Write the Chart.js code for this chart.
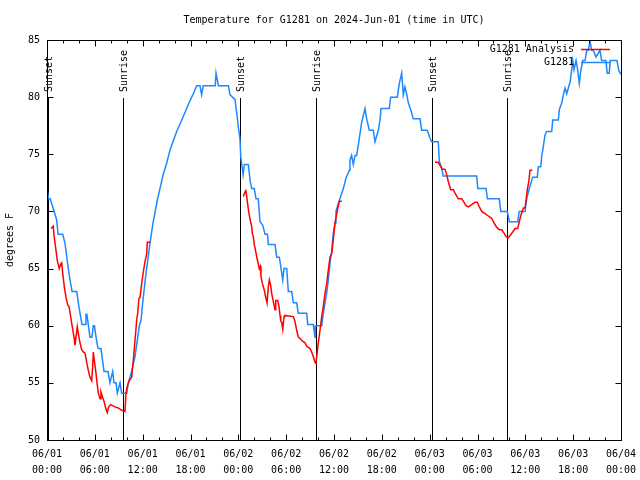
<!DOCTYPE html>
<html>
<head>
<meta charset="utf-8">
<script src="https://cdn.jsdelivr.net/npm/chart.js@4.4.1/dist/chart.umd.min.js"></script>
<style>
html,body{margin:0;padding:0;background:#fff}
#chart{display:block}
</style>
</head>
<body>
<canvas id="chart" width="640" height="480"></canvas>
<script>
// ==============================
// G1281 temperature, 2024-Jun-01
// ==============================

const titleText = "Temperature for G1281 on 2024-Jun-01 (time in UTC)"

// hours since 06/01 00:00 UTC
const xTickHours = [0,6,12,18,24,30,36,42,48,54,60,66,72]
const xTickLabels = [
["06/01","00:00"],["06/01","06:00"],["06/01","12:00"],["06/01","18:00"],
["06/02","00:00"],["06/02","06:00"],["06/02","12:00"],["06/02","18:00"],
["06/03","00:00"],["06/03","06:00"],["06/03","12:00"],["06/03","18:00"],
["06/04","00:00"]
]
const yTicks = [50,55,60,65,70,75,80,85]

const eventHours = [0.15,9.55,24.2,33.7,48.35,57.65]
const eventNames = ["Sunset","Sunrise","Sunset","Sunrise","Sunset","Sunrise"]

// G1281 station (blue)
const stationHours = [
0,0.2,0.4,0.9,1.2,1.4,1.97,2.26,2.67,2.89,
3.14,3.73,3.93,4.14,4.39,4.77,4.89,5.0,5.18,5.39,
5.64,5.81,5.95,6.15,6.4,6.77,7.15,7.65,7.9,8.24,
8.4,8.66,8.82,9.16,9.37,10.0,10.2,10.62,11.04,11.58,
11.8,12.0,12.42,12.92,13.3,13.84,14.17,14.6,15.0,15.4,
15.85,16.27,16.9,17.52,17.94,18.35,18.78,19.2,19.4,19.6,
21.1,21.2,21.5,22.75,22.96,23.58,23.8,24.0,24.2,24.3,
24.6,24.75,25.25,25.5,25.68,26.0,26.22,26.5,26.72,27.05,
27.35,27.66,27.76,28.6,28.81,29.14,29.32,29.57,29.73,30.07,
30.27,30.7,30.9,31.32,31.52,32.58,32.7,33.4,33.62,33.66,
34.46,34.66,34.87,35.09,35.29,35.5,35.71,35.91,36.13,36.25,
36.54,36.84,37.17,37.5,37.92,38.0,38.21,38.42,38.63,38.84,
39.05,39.26,39.47,39.68,39.89,40.1,40.43,40.93,41.14,41.56,
41.77,41.9,42.94,43.11,43.94,44.19,44.49,44.69,44.9,45.11,
45.32,45.62,45.95,46.79,47.0,47.7,48.04,48.25,49.08,49.21,
49.5,49.7,53.9,54.03,55.07,55.24,56.74,56.91,57.74,58.0,
59.04,59.24,59.96,60.17,60.5,60.92,61.5,61.63,61.93,62.05,
62.26,62.47,62.68,63.31,63.44,64.14,64.26,64.57,64.77,64.98,
65.19,65.39,65.61,65.82,65.94,66.11,66.36,66.52,66.77,66.95,
67.2,67.49,67.7,67.9,68.11,68.32,68.52,68.86,69.36,69.57,
70.11,70.27,70.52,70.66,71.49,71.74,72
]
const stationTemps = [
72.0,71.1,71.1,70.0,69.3,68.0,68.0,67.2,65.0,64.0,
63.0,63.0,62.0,61.1,60.1,60.1,61.0,61.0,60.1,59.0,
59.0,60.0,60.0,59.0,58.0,58.0,56.0,56.0,55.0,56.0,
55.0,55.0,54.1,55.0,54.1,54.1,55.0,56.0,57.3,60.0,
60.5,62.0,64.6,67.2,69.0,71.0,72.0,73.3,74.2,75.3,
76.2,77.0,78.0,79.0,79.7,80.3,81.0,81.0,80.2,81.0,
81.0,82.1,81.0,81.0,80.2,79.8,78.6,77.4,76.4,74.8,
73.2,74.1,74.1,72.6,72.0,72.0,71.1,71.1,69.1,68.8,
68.0,68.0,67.1,67.1,66.0,66.0,65.2,64.0,65.0,65.0,
63.0,63.0,62.0,62.0,61.1,61.1,60.1,60.1,59.0,60.0,
60.0,61.1,62.0,62.9,64.0,65.5,66.5,68.1,69.0,70.0,
70.7,71.3,72.0,72.9,73.6,74.5,74.9,74.1,74.9,74.9,
75.8,76.8,77.8,78.4,79.0,78.1,77.1,77.1,76.1,77.1,
78.0,79.0,79.0,80.0,80.0,81.2,82.1,80.2,80.9,80.3,
79.5,78.9,78.1,78.1,77.1,77.1,76.4,76.1,76.1,74.4,
73.8,73.1,73.1,72.0,72.0,71.1,71.1,70.0,70.0,69.1,
69.1,70.0,70.0,71.1,72.0,73.0,73.0,73.9,73.9,74.8,
75.7,76.7,77.0,77.0,78.0,78.0,78.9,79.5,80.2,80.8,
80.3,80.8,81.3,82.4,83.2,82.4,83.2,82.6,81.2,82.3,
83.2,83.2,84.1,84.1,84.9,84.1,84.1,83.5,84.1,83.2,
83.2,82.1,82.1,83.2,83.2,82.3,82.0
]

// G1281 Analysis (red), null = no analysis run
const analysisHours = [
0.5,0.79,0.88,1.13,1.29,1.54,1.72,1.84,1.97,2.17,
2.38,2.6,2.76,2.97,3.17,3.39,3.51,3.64,3.8,3.93,
4.14,4.35,4.55,4.77,4.98,5.18,5.39,5.61,5.73,5.81,
5.93,6.15,6.31,6.44,6.65,6.77,6.94,7.15,7.36,7.56,
7.74,7.99,8.53,8.94,9.37,9.78,9.91,10.07,10.32,10.62,
10.83,11.04,11.25,11.38,11.54,11.67,11.88,12.08,12.29,12.51,
12.58,12.98,18,24.62,24.84,24.93,25.05,25.18,25.34,25.5,
25.68,25.75,25.88,26.0,26.18,26.34,26.5,26.63,26.76,26.84,
27.01,27.26,27.43,27.6,27.76,27.89,28.06,28.19,28.39,28.6,
28.69,28.94,29.1,29.23,29.32,29.44,29.57,29.73,29.85,30.9,
31.1,31.32,31.52,31.74,31.95,32.36,32.58,32.99,33.2,33.4,
33.62,33.74,33.83,34.03,34.24,34.46,34.66,34.87,35.09,35.29,
35.5,35.71,35.91,36.13,36.42,36.67,36.97,42,48.67,49.08,
49.21,49.42,49.55,49.92,50.14,50.34,50.64,50.97,51.18,51.59,
52.02,52.22,52.56,52.85,53.27,53.69,53.98,54.23,54.53,54.94,
55.36,55.78,56.07,56.41,56.74,57.04,57.33,57.58,57.87,58.08,
58.42,58.71,59.04,59.24,59.46,59.75,59.96,60.09,60.25,60.43,
60.59,60.88
]
const analysisTemps = [
68.5,68.7,67.9,66.6,65.7,65.0,65.4,65.5,64.6,63.4,
62.5,61.8,61.7,60.8,59.9,59.0,58.3,59.0,59.9,59.3,
58.5,57.9,57.7,57.6,56.8,56.1,55.5,55.2,56.4,57.7,
57.0,55.8,54.8,54.1,53.6,54.2,53.8,53.4,52.8,52.4,
52.9,53.1,52.9,52.8,52.6,52.5,54.1,54.7,55.2,55.5,
57.0,58.7,60.5,61.1,62.4,62.5,63.7,64.7,65.6,66.3,
67.3,67.3,null,71.3,71.7,71.9,71.3,70.6,69.8,69.2,
68.7,68.1,67.8,67.1,66.5,65.9,65.4,65.0,65.2,64.3,
63.7,63.1,62.5,62.0,63.4,64.0,63.5,62.8,62.1,61.4,
62.2,62.2,61.7,60.9,60.4,60.3,59.7,60.8,60.9,60.8,
60.4,59.6,59.0,58.9,58.7,58.5,58.2,58.0,57.7,57.3,
56.8,56.7,57.3,58.5,59.6,60.8,61.7,62.8,63.7,64.9,
66.0,66.3,67.5,69.0,70.1,70.9,70.9,null,74.3,74.3,
74.1,73.9,73.7,73.7,73.2,72.6,71.9,71.9,71.6,71.1,
71.1,70.9,70.5,70.4,70.6,70.8,70.8,70.4,70.0,69.8,
69.6,69.4,69.0,68.6,68.4,68.4,68.1,67.8,67.7,67.9,
68.2,68.5,68.5,69.1,69.7,70.3,70.3,71.0,71.9,72.6,
73.6,73.6
]

const fontFamily = "'DejaVu Sans Mono', 'Liberation Mono', monospace"
const font10 = {family: fontFamily, size: 10}


function toPoints(hours, temps){

return hours.map((h,i)=>({x:h, y:temps[i]}))

}


// gnuplot style frame, inward ticks, sun events, legend, title

const gnuFrame = {

id:"gnuFrame",

beforeDatasetsDraw(chart){

const {ctx, chartArea:a, scales:{x}} = chart

ctx.save()
ctx.strokeStyle = "#000"
ctx.lineWidth = 1
ctx.fillStyle = "#000"
ctx.font = "10px " + fontFamily

eventHours.forEach((h,i)=>{

const px = Math.round(x.getPixelForValue(h)) + 0.5

ctx.beginPath()
ctx.moveTo(px, 98)
ctx.lineTo(px, a.bottom)
ctx.stroke()

ctx.save()
ctx.translate(px + 1, 92)
ctx.rotate(-Math.PI/2)
ctx.textAlign = "left"
ctx.textBaseline = "middle"
ctx.fillText(eventNames[i], 0, 0)
ctx.restore()

})

ctx.restore()

},

afterDatasetsDraw(chart){

const {ctx, chartArea:a, scales:{x,y}} = chart

ctx.save()
ctx.strokeStyle = "#000"
ctx.lineWidth = 1

const L = Math.round(a.left) + 0.5
const R = Math.round(a.right) + 0.5
const T = Math.round(a.top) + 0.5
const B = Math.round(a.bottom) + 0.5

ctx.strokeRect(L, T, R - L, B - T)

ctx.beginPath()

for(let h = 0; h <= 72; h += 2){

const px = Math.round(x.getPixelForValue(h)) + 0.5
const len = (h % 6 === 0) ? 6 : 3

ctx.moveTo(px, B)
ctx.lineTo(px, B - len)
ctx.moveTo(px, T)
ctx.lineTo(px, T + len)

}

yTicks.forEach(v=>{

const py = Math.round(y.getPixelForValue(v)) + 0.5

ctx.moveTo(L, py)
ctx.lineTo(L + 6, py)
ctx.moveTo(R, py)
ctx.lineTo(R - 6, py)

})

ctx.stroke()

// legend

ctx.font = "10px " + fontFamily
ctx.fillStyle = "#000"
ctx.textAlign = "right"
ctx.textBaseline = "middle"

chart.data.datasets.forEach((ds,i)=>{

const ly = 49.5 + i*13

ctx.fillText(ds.label, 574, ly)

ctx.strokeStyle = ds.borderColor
ctx.lineWidth = 1.5
ctx.beginPath()
ctx.moveTo(581, ly)
ctx.lineTo(610, ly)
ctx.stroke()

})

// title

ctx.textAlign = "center"
ctx.fillText(titleText, (a.left + a.right)/2, 20)

ctx.restore()

}

}


new Chart(document.getElementById("chart"),{

type:"line",

data:{

datasets:[{

label:"G1281 Analysis",
data:toPoints(analysisHours, analysisTemps),
borderColor:"#ff0000",
borderWidth:1.5,
pointRadius:0,
fill:false,
spanGaps:false

},{

label:"G1281",
data:toPoints(stationHours, stationTemps),
borderColor:"#1e88ff",
borderWidth:1.5,
pointRadius:0,
fill:false

}]

},

options:{

responsive:false,
animation:false,
events:[],
layout:{padding:{top:40, right:19, left:0, bottom:0}},

plugins:{
legend:{display:false},
title:{display:false},
tooltip:{enabled:false}
},

scales:{

x:{
type:"linear",
min:0,
max:72,
afterBuildTicks:s=>{ s.ticks = xTickHours.map(v=>({value:v})) },
afterFit:s=>{ s.height = 40; s.paddingLeft = 0; s.paddingRight = 0 },
grid:{display:false, drawTicks:false},
border:{display:false},
ticks:{
autoSkip:false,
maxRotation:0,
padding:7,
color:"#000",
font:{family:fontFamily, size:10, lineHeight:1.55},
callback:(v,i)=>xTickLabels[i]
}
},

y:{
min:50,
max:85,
afterBuildTicks:s=>{ s.ticks = yTicks.map(v=>({value:v})) },
afterFit:s=>{ s.width = 47; s.paddingTop = 0; s.paddingBottom = 0 },
grid:{display:false, drawTicks:false},
border:{display:false},
ticks:{
padding:7,
color:"#000",
font:font10
},
title:{
display:true,
text:"degrees F",
color:"#000",
font:font10,
padding:{top:4, bottom:0}
}
}

}

},

plugins:[gnuFrame]

})
</script>
</body>
</html>
